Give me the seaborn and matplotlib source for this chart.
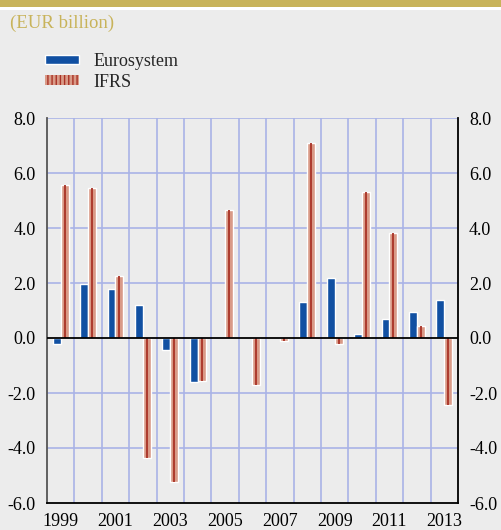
import pandas as pd
import numpy as np
import matplotlib.pyplot as plt
import seaborn as sns
from matplotlib.patches import Patch, Rectangle
from matplotlib.ticker import FixedLocator

# datos (EUR billion)
years = [str(y) for y in range(1999, 2014)]
eurosystem = [-0.2, 1.95, 1.8, 1.2, -0.42, -1.6, 0.0, 0.0, 0.0, 1.3, 2.2, 0.14, 0.7, 0.96, 1.4]
ifrs = [5.55, 5.45, 2.27, -4.35, -5.25, -1.55, 4.65, -1.7, -0.12, 7.1, -0.22, 5.3, 3.82, 0.45, -2.44]
series_names = ['Eurosystem', 'IFRS']
y_ticks = [-6.0, -4.0, -2.0, 0.0, 2.0, 4.0, 6.0, 8.0]

BG = '#ececec'
BLUE = '#1150a2'
SALMON = '#d99a87'
STRIPE = '#a93226'
GRID = '#a9b3e6'
GOLD = '#c8b35a'

df = pd.DataFrame({
    'year': years * 2,
    'value': eurosystem + ifrs,
    'series': [series_names[0]] * len(years) + [series_names[1]] * len(years),
})

sns.set_theme(style='white')
plt.rcParams['font.family'] = ['Liberation Serif', 'DejaVu Serif']

fig = plt.figure(figsize=(5.02, 5.3), dpi=100)
fig.patch.set_facecolor(BG)
# banda dorada superior
fig.patches.append(Rectangle((0, 1 - 7 / 530), 1, 7 / 530, transform=fig.transFigure,
                             facecolor=GOLD, edgecolor='none'))
fig.patches.append(Rectangle((0, 1 - 10 / 530), 1, 3 / 530, transform=fig.transFigure,
                             facecolor='white', edgecolor='none'))

ax = fig.add_axes([47 / 502, 1 - 503 / 530, 411 / 502, 385 / 530])
ax.set_facecolor(BG)

sns.barplot(data=df, x='year', y='value', hue='series', order=years,
            palette={series_names[0]: BLUE, series_names[1]: SALMON},
            width=0.57, saturation=1, edgecolor='white', linewidth=1.0,
            legend=False, ax=ax, zorder=3)

# linea central oscura en las barras IFRS
n = len(years)
for i, p in enumerate(ax.patches):
    if p.get_height() == 0:
        p.set_linewidth(0)
    if i >= n:
        cx = p.get_x() + p.get_width() / 2
        ax.vlines(cx, 0, p.get_height(), color=STRIPE, lw=1.3, zorder=4)

ax.axhline(0, color='black', lw=1.3, zorder=5)

ax.set_xlim(-0.5, n - 0.5)
ax.set_ylim(-6, 8)
ax.yaxis.set_major_locator(FixedLocator(y_ticks))
ax.set_yticklabels([f'{v:.1f}' for v in y_ticks])
ax.set_xticks(range(0, n, 2))
ax.set_xticklabels(years[::2])
ax.xaxis.set_minor_locator(FixedLocator(np.arange(-0.5, n, 1.0)))

ax.grid(False)
for xb in np.arange(0.5, n - 0.5, 1.0):
    ax.axvline(xb, color=GRID, lw=1.2, zorder=1)
for yv in y_ticks[1:]:
    if yv != 0:
        ax.axhline(yv, color=GRID, lw=1.2, zorder=1)

ax.tick_params(axis='x', which='major', length=0, pad=7, labelsize=13, colors='black')
ax.tick_params(axis='x', which='minor', length=4, width=1, direction='out', color='black')
ax.tick_params(axis='y', which='both', length=0, pad=8, labelsize=13,
               left=True, right=True, labelleft=True, labelright=True, colors='black')
ax.set_xlabel('')
ax.set_ylabel('')

ax.spines['top'].set_visible(False)
ax.spines['left'].set_color('#555555')
ax.spines['left'].set_linewidth(1.3)
ax.spines['right'].set_color('black')
ax.spines['right'].set_linewidth(1.3)
ax.spines['bottom'].set_color('black')
ax.spines['bottom'].set_linewidth(1.3)

fig.text(10 / 502, 1 - 23 / 530, '(EUR billion)', color=GOLD, fontsize=13.5,
         va='center', ha='left')

handles = [
    Patch(facecolor=BLUE, edgecolor='white', linewidth=1, label=series_names[0]),
    Patch(facecolor=SALMON, edgecolor=STRIPE, hatch='||||', linewidth=0, label=series_names[1]),
]
fig.legend(handles=handles, loc='upper left', bbox_to_anchor=(45 / 502, 1 - 53 / 530),
           frameon=False, fontsize=13, handlelength=1.9, handleheight=0.45,
           labelspacing=0.2, handletextpad=0.8, borderaxespad=0, borderpad=0)

fig.savefig('out.png', dpi=100, facecolor=BG)
